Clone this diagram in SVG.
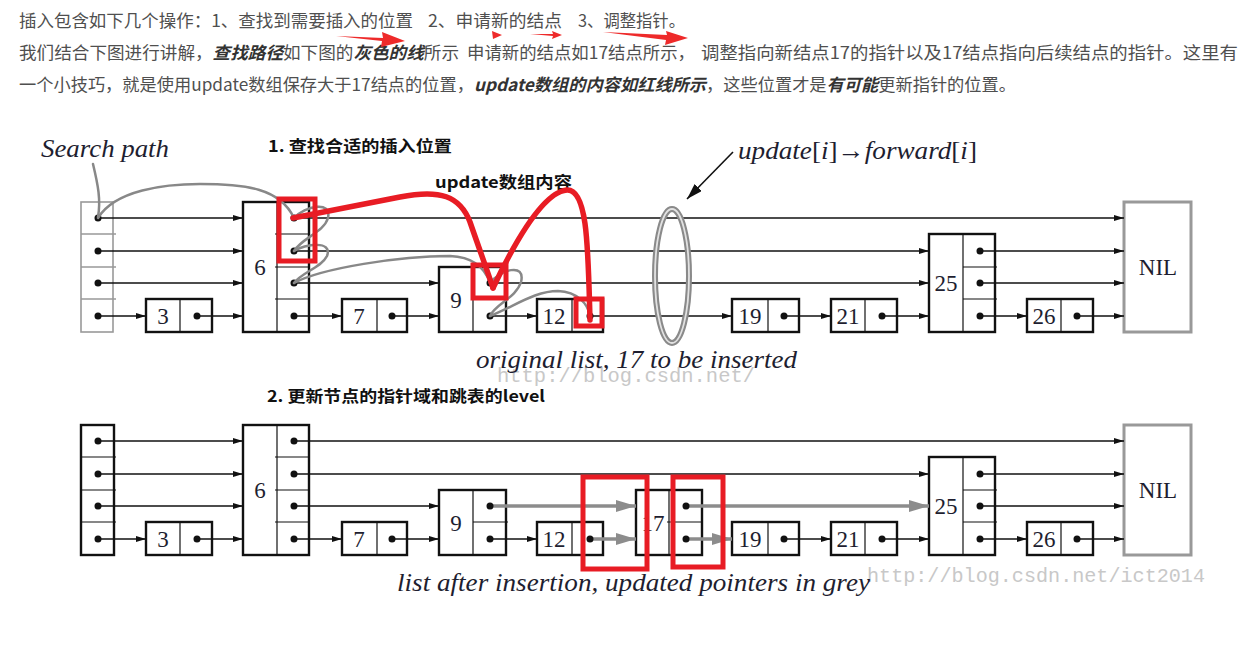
<svg xmlns="http://www.w3.org/2000/svg" width="1246" height="660" viewBox="0 0 1246 660">
<style>
.p{font-family:"Noto Sans CJK SC","Noto Sans",sans-serif;font-size:17px;fill:#4f4f4f}
.bi{font-weight:bold;font-style:italic;fill:#333}
.h{font-family:"Noto Sans CJK SC","Noto Sans",sans-serif;font-size:16px;font-weight:bold;fill:#111}
.s{font-family:"Liberation Serif","DejaVu Serif",serif;fill:#1e1e30}
.it{font-style:italic}
.num{font-family:"Liberation Serif","DejaVu Serif",serif;font-size:23px;fill:#1e1e30;text-anchor:middle}
.wm{font-family:"Liberation Mono","DejaVu Sans Mono",monospace;font-size:20px;fill:#c8c8c8}
.n{fill:#fff;stroke:#111;stroke-width:2.4}
.hg{fill:#fff;stroke:#999;stroke-width:1.6}
.nil{fill:#fff;stroke:#999;stroke-width:3}
.d{stroke:#111;stroke-width:1.2}
.dg{stroke:#999;stroke-width:1.4}
.dot{fill:#111}
.a{stroke:#111;stroke-width:1.3;marker-end:url(#ah)}
.g{stroke:#8c8c8c;stroke-width:3.5;marker-end:url(#gh)}
.sp{fill:none;stroke:#888;stroke-width:2.5;stroke-linecap:round}
.rd{fill:none;stroke:#e81c24;stroke-width:5.5;stroke-linecap:round;stroke-linejoin:round}
.rb{fill:none;stroke:#e81c24;stroke-width:5}
.ra{fill:#ee2a2a}
</style>
<defs>
<marker id="ah" viewBox="0 0 10 6" refX="10" refY="3" markerWidth="10" markerHeight="6" markerUnits="userSpaceOnUse" orient="auto"><path d="M0,0 L10,3 L0,6 z" fill="#111"/></marker>
<marker id="gh" viewBox="0 0 20 12" refX="20" refY="6" markerWidth="20" markerHeight="12" markerUnits="userSpaceOnUse" orient="auto"><path d="M0,0 L20,6 L0,12 z" fill="#8c8c8c"/></marker>
<marker id="bh" viewBox="0 0 16 10" refX="16" refY="5" markerWidth="16" markerHeight="10" markerUnits="userSpaceOnUse" orient="auto"><path d="M0,0 L16,5 L0,10 z" fill="#111"/></marker>
</defs>
<rect width="1246" height="660" fill="#fff"/>

<g id="intro">
<text class="p" x="19" y="27" textLength="394" lengthAdjust="spacingAndGlyphs">插入包含如下几个操作：1、查找到需要插入的位置</text>
<text class="p" x="428" y="27" textLength="134" lengthAdjust="spacingAndGlyphs">2、申请新的结点</text>
<text class="p" x="578" y="27" textLength="107" lengthAdjust="spacingAndGlyphs">3、调整指针。</text>
<text class="p" x="19" y="59" textLength="440" lengthAdjust="spacingAndGlyphs">我们结合下图进行讲解，<tspan class="bi">查找路径</tspan>如下图的<tspan class="bi">灰色的线</tspan>所示</text>
<text class="p" x="467" y="59" textLength="228" lengthAdjust="spacingAndGlyphs">申请新的结点如17结点所示，</text>
<text class="p" x="701" y="59" textLength="537" lengthAdjust="spacingAndGlyphs">调整指向新结点17的指针以及17结点指向后续结点的指针。这里有</text>
<text class="p" x="19" y="91" textLength="997" lengthAdjust="spacingAndGlyphs">一个小技巧，就是使用update数组保存大于17结点的位置，<tspan class="bi">update数组的内容如红线所示</tspan>，这些位置才是<tspan class="bi">有可能</tspan>更新指针的位置。</text>
<path class="ra" d="M336,36 L383,38 L382,32 L405,41 L381,47 L382,41 Z"/>
<path class="ra" d="M492,31 L502,35 L493,39 Z"/>
<path class="ra" d="M530,34 L553,34 L552,31 L562,35 L552,39 L553,36 Z"/>
<path class="ra" d="M603,32 L667,35 L666,31 L688,38 L665,45 L666,40 Z"/>
</g>

<g id="labels">
<text class="wm" x="497" y="382" textLength="258" lengthAdjust="spacingAndGlyphs">http://blog.csdn.net/</text>
<text class="wm" x="867" y="582" textLength="338" lengthAdjust="spacingAndGlyphs">http://blog.csdn.net/ict2014</text>
<text class="s it" x="41" y="157" font-size="26" textLength="128" lengthAdjust="spacingAndGlyphs">Search path</text>
<text class="h" x="268" y="152" textLength="184" lengthAdjust="spacingAndGlyphs">1. 查找合适的插入位置</text>
<text class="h" x="435" y="188" textLength="137" lengthAdjust="spacingAndGlyphs">update数组内容</text>
<text class="s" x="738" y="159" font-size="26" textLength="239" lengthAdjust="spacingAndGlyphs"><tspan class="it">update</tspan>[<tspan class="it">i</tspan>]→<tspan class="it">forward</tspan>[<tspan class="it">i</tspan>]</text>
<text class="s it" x="476" y="368" font-size="25" textLength="321" lengthAdjust="spacingAndGlyphs">original list, 17 to be inserted</text>
<text class="h" x="267" y="402" textLength="278" lengthAdjust="spacingAndGlyphs">2. 更新节点的指针域和跳表的level</text>
<text class="s it" x="397" y="591" font-size="25" textLength="473" lengthAdjust="spacingAndGlyphs">list after insertion, updated pointers in grey</text>
</g>

<!-- TOP LIST NODES -->
<g id="t-head"><rect class="hg" x="81" y="202" width="32" height="130"/><line class="dg" x1="81" y1="234" x2="116" y2="234"/><line class="dg" x1="81" y1="267" x2="116" y2="267"/><line class="dg" x1="81" y1="299" x2="116" y2="299"/></g>
<g id="t-n3"><rect class="n" x="146" y="299" width="66" height="33"/><line class="d" x1="180" y1="299" x2="180" y2="332"/><text class="num" x="163" y="324">3</text></g>
<g id="t-n6"><rect class="n" x="243" y="202" width="66" height="130"/><line class="d" x1="277" y1="202" x2="277" y2="332"/><line class="d" x1="275" y1="234" x2="309" y2="234"/><line class="d" x1="275" y1="267" x2="309" y2="267"/><line class="d" x1="275" y1="299" x2="309" y2="299"/><text class="num" x="260" y="275">6</text></g>
<g id="t-n7"><rect class="n" x="342" y="299" width="65" height="33"/><line class="d" x1="377" y1="299" x2="377" y2="332"/><text class="num" x="359" y="324">7</text></g>
<g id="t-n9"><rect class="n" x="439" y="267" width="67" height="65"/><line class="d" x1="473" y1="267" x2="473" y2="332"/><line class="d" x1="473" y1="299" x2="508" y2="299"/><text class="num" x="456" y="308">9</text></g>
<g id="t-n12"><rect class="n" x="537" y="299" width="66" height="33"/><line class="d" x1="572" y1="299" x2="572" y2="332"/><text class="num" x="554" y="324">12</text></g>
<g id="t-n19"><rect class="n" x="732" y="299" width="67" height="33"/><line class="d" x1="768" y1="299" x2="768" y2="332"/><text class="num" x="750" y="324">19</text></g>
<g id="t-n21"><rect class="n" x="831" y="299" width="66" height="33"/><line class="d" x1="865" y1="299" x2="865" y2="332"/><text class="num" x="848" y="324">21</text></g>
<g id="t-n25"><rect class="n" x="929" y="234" width="66" height="98"/><line class="d" x1="963" y1="234" x2="963" y2="332"/><line class="d" x1="963" y1="267" x2="997" y2="267"/><line class="d" x1="963" y1="299" x2="997" y2="299"/><text class="num" x="946" y="291">25</text></g>
<g id="t-n26"><rect class="n" x="1027" y="299" width="66" height="33"/><line class="d" x1="1061" y1="299" x2="1061" y2="332"/><text class="num" x="1044" y="324">26</text></g>
<g id="t-nil"><rect class="nil" x="1124" y="202" width="67" height="130"/><text class="num" x="1158" y="275">NIL</text></g>

<!-- BOTTOM LIST NODES -->
<g id="b-head"><rect class="n" x="81" y="425" width="33" height="130"/><line class="d" x1="81" y1="457" x2="116" y2="457"/><line class="d" x1="81" y1="490" x2="116" y2="490"/><line class="d" x1="81" y1="522" x2="116" y2="522"/></g>
<g id="b-n3"><rect class="n" x="146" y="522" width="66" height="33"/><line class="d" x1="180" y1="522" x2="180" y2="555"/><text class="num" x="163" y="547">3</text></g>
<g id="b-n6"><rect class="n" x="243" y="425" width="66" height="130"/><line class="d" x1="277" y1="425" x2="277" y2="555"/><line class="d" x1="275" y1="457" x2="309" y2="457"/><line class="d" x1="275" y1="490" x2="309" y2="490"/><line class="d" x1="275" y1="522" x2="309" y2="522"/><text class="num" x="260" y="498">6</text></g>
<g id="b-n7"><rect class="n" x="342" y="522" width="65" height="33"/><line class="d" x1="377" y1="522" x2="377" y2="555"/><text class="num" x="359" y="547">7</text></g>
<g id="b-n9"><rect class="n" x="439" y="490" width="67" height="65"/><line class="d" x1="473" y1="490" x2="473" y2="555"/><line class="d" x1="473" y1="522" x2="508" y2="522"/><text class="num" x="456" y="531">9</text></g>
<g id="b-n12"><rect class="n" x="537" y="522" width="66" height="33"/><line class="d" x1="572" y1="522" x2="572" y2="555"/><text class="num" x="554" y="547">12</text></g>
<g id="b-n17"><rect class="n" x="636" y="490" width="66" height="65"/><line class="d" x1="669" y1="490" x2="669" y2="555"/><line class="d" x1="667" y1="522" x2="702" y2="522"/><text class="num" x="653" y="531">17</text></g>
<g id="b-n19"><rect class="n" x="732" y="522" width="67" height="33"/><line class="d" x1="768" y1="522" x2="768" y2="555"/><text class="num" x="750" y="547">19</text></g>
<g id="b-n21"><rect class="n" x="831" y="522" width="66" height="33"/><line class="d" x1="865" y1="522" x2="865" y2="555"/><text class="num" x="848" y="547">21</text></g>
<g id="b-n25"><rect class="n" x="929" y="457" width="66" height="98"/><line class="d" x1="963" y1="457" x2="963" y2="555"/><line class="d" x1="963" y1="490" x2="997" y2="490"/><line class="d" x1="963" y1="522" x2="997" y2="522"/><text class="num" x="946" y="514">25</text></g>
<g id="b-n26"><rect class="n" x="1027" y="522" width="66" height="33"/><line class="d" x1="1061" y1="522" x2="1061" y2="555"/><text class="num" x="1044" y="547">26</text></g>
<g id="b-nil"><rect class="nil" x="1124" y="425" width="67" height="130"/><text class="num" x="1158" y="498">NIL</text></g>

<g id="connectors">
<!-- top -->
<line class="a" x1="98" y1="218" x2="243" y2="218"/><line class="a" x1="294" y1="218" x2="1124" y2="218"/>
<line class="a" x1="98" y1="251" x2="243" y2="251"/><line class="a" x1="294" y1="251" x2="929" y2="251"/><line class="a" x1="980" y1="251" x2="1124" y2="251"/>
<line class="a" x1="98" y1="283" x2="243" y2="283"/><line class="a" x1="294" y1="283" x2="439" y2="283"/><line class="a" x1="490" y1="283" x2="929" y2="283"/><line class="a" x1="980" y1="283" x2="1124" y2="283"/>
<line class="a" x1="98" y1="316" x2="146" y2="316"/><line class="a" x1="197" y1="316" x2="243" y2="316"/><line class="a" x1="294" y1="316" x2="342" y2="316"/><line class="a" x1="392" y1="316" x2="439" y2="316"/><line class="a" x1="490" y1="316" x2="537" y2="316"/><line class="a" x1="590" y1="316" x2="732" y2="316"/><line class="a" x1="784" y1="316" x2="831" y2="316"/><line class="a" x1="882" y1="316" x2="929" y2="316"/><line class="a" x1="980" y1="316" x2="1027" y2="316"/><line class="a" x1="1077" y1="316" x2="1124" y2="316"/>
<!-- bottom -->
<line class="a" x1="98" y1="441" x2="243" y2="441"/><line class="a" x1="294" y1="441" x2="1124" y2="441"/>
<line class="a" x1="98" y1="474" x2="243" y2="474"/><line class="a" x1="294" y1="474" x2="929" y2="474"/><line class="a" x1="980" y1="474" x2="1124" y2="474"/>
<line class="a" x1="98" y1="506" x2="243" y2="506"/><line class="a" x1="294" y1="506" x2="439" y2="506"/><line class="g" x1="490" y1="506" x2="636" y2="506"/><line class="g" x1="686" y1="506" x2="929" y2="506"/><line class="a" x1="980" y1="506" x2="1124" y2="506"/>
<line class="a" x1="98" y1="539" x2="146" y2="539"/><line class="a" x1="197" y1="539" x2="243" y2="539"/><line class="a" x1="294" y1="539" x2="342" y2="539"/><line class="a" x1="392" y1="539" x2="439" y2="539"/><line class="a" x1="490" y1="539" x2="537" y2="539"/><line class="g" x1="590" y1="539" x2="636" y2="539"/><line class="g" x1="686" y1="539" x2="732" y2="539"/><line class="a" x1="784" y1="539" x2="831" y2="539"/><line class="a" x1="882" y1="539" x2="929" y2="539"/><line class="a" x1="980" y1="539" x2="1027" y2="539"/><line class="a" x1="1077" y1="539" x2="1124" y2="539"/>
<!-- annotation arrow -->
<line x1="733" y1="152" x2="687" y2="199" stroke="#111" stroke-width="1.6" marker-end="url(#bh)"/>
</g>

<g id="dots">
<g class="dot">
<circle cx="98" cy="218" r="3.5"/><circle cx="98" cy="251" r="3.5"/><circle cx="98" cy="283" r="3.5"/><circle cx="98" cy="316" r="3.5"/>
<circle cx="197" cy="316" r="3.5"/>
<circle cx="294" cy="218" r="3.5"/><circle cx="294" cy="251" r="3.5"/><circle cx="294" cy="283" r="3.5"/><circle cx="294" cy="316" r="3.5"/>
<circle cx="392" cy="316" r="3.5"/>
<circle cx="490" cy="283" r="3.5"/><circle cx="490" cy="316" r="3.5"/>
<circle cx="590" cy="316" r="3.5"/><circle cx="784" cy="316" r="3.5"/><circle cx="882" cy="316" r="3.5"/>
<circle cx="980" cy="251" r="3.5"/><circle cx="980" cy="283" r="3.5"/><circle cx="980" cy="316" r="3.5"/>
<circle cx="1077" cy="316" r="3.5"/>
<circle cx="98" cy="441" r="3.5"/><circle cx="98" cy="474" r="3.5"/><circle cx="98" cy="506" r="3.5"/><circle cx="98" cy="539" r="3.5"/>
<circle cx="197" cy="539" r="3.5"/>
<circle cx="294" cy="441" r="3.5"/><circle cx="294" cy="474" r="3.5"/><circle cx="294" cy="506" r="3.5"/><circle cx="294" cy="539" r="3.5"/>
<circle cx="392" cy="539" r="3.5"/>
<circle cx="490" cy="506" r="3.5"/><circle cx="490" cy="539" r="3.5"/>
<circle cx="590" cy="539" r="3.5"/>
<circle cx="686" cy="506" r="3.5"/><circle cx="686" cy="539" r="3.5"/>
<circle cx="784" cy="539" r="3.5"/><circle cx="882" cy="539" r="3.5"/>
<circle cx="980" cy="474" r="3.5"/><circle cx="980" cy="506" r="3.5"/><circle cx="980" cy="539" r="3.5"/>
<circle cx="1077" cy="539" r="3.5"/>
</g>
</g>

<g id="ring">
<ellipse cx="672" cy="276" rx="17" ry="67" fill="none" stroke="#8a8a8a" stroke-width="6"/>
<ellipse cx="672" cy="276" rx="17" ry="67" fill="none" stroke="#e2e2e2" stroke-width="1.8"/>
</g>

<g id="search-path">
<path class="sp" d="M93,164 C98,185 101,200 98,217"/>
<path class="sp" d="M98,218 C115,190 165,184 200,184 C245,184 280,188 294,218"/>
<path class="sp" d="M294,218 C305,206 332,200 328,218 C324,232 302,238 294,251"/>
<path class="sp" d="M294,251 C305,244 333,240 327,256 C321,268 302,272 294,283"/>
<path class="sp" d="M294,283 C322,268 400,256 450,256 C474,257 485,268 490,283"/>
<path class="sp" d="M490,283 C500,270 526,262 521,282 C516,298 495,304 490,316"/>
<path class="sp" d="M490,316 C515,306 535,291 558,291 C578,292 588,304 590,316"/>
</g>

<g id="update-red">
<rect class="rb" x="279" y="199" width="36" height="62"/>
<rect class="rb" x="473" y="265" width="33" height="33"/>
<rect class="rb" x="576" y="299" width="26" height="27"/>
<path class="rd" d="M293,218 L400,197 C440,189 460,196 470,222 C479,248 487,270 493,288"/>
<path class="rd" d="M493,288 C512,248 542,192 567,190 C588,189 588,250 590,320"/>
<rect class="rb" x="583" y="477" width="64" height="92"/>
<rect class="rb" x="673" y="477" width="50" height="90"/>
</g>
</svg>
